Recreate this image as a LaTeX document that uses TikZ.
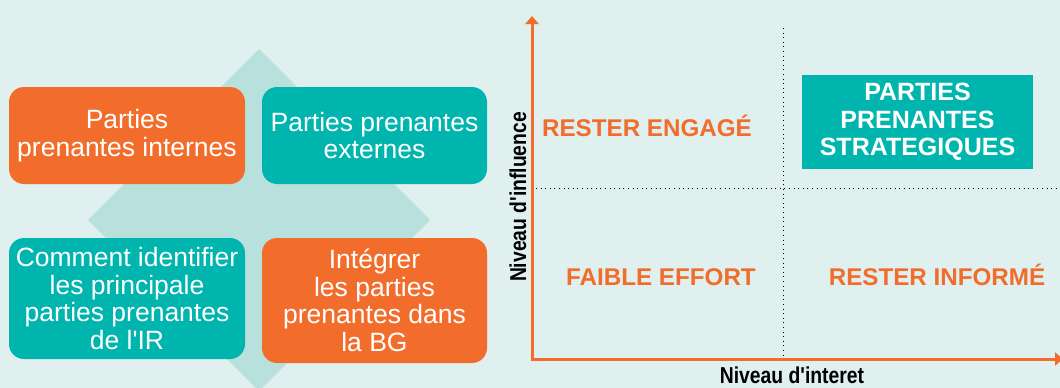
\documentclass[tikz,border=0pt]{standalone}
\usepackage{fontspec}
\setmainfont{Liberation Sans}[Ligatures=TeXOff]
\newfontfamily\axisfont{Liberation Sans}[Ligatures=TeXOff, FakeStretch=0.84]
\usetikzlibrary{arrows.meta}
\definecolor{bg}{HTML}{DFF0EE}
\definecolor{dia}{HTML}{B8E1DD}
\definecolor{orng}{HTML}{F26D2C}
\definecolor{tealc}{HTML}{00B5AE}
\begin{document}
\begin{tikzpicture}[x=1pt,y=-1pt,
  card/.style={rounded corners=15pt, text=white, align=center, inner sep=0pt,
    font=\fontsize{26.5}{27.6}\selectfont, minimum width=236pt},
  quad/.style={text=orng, font=\bfseries\fontsize{24.2}{27}\selectfont, anchor=base},
  axislabel/.style={font=\axisfont\bfseries\fontsize{23}{26}\selectfont, text=black, inner sep=0pt},
  gridline/.style={black, line width=1pt, dash pattern=on 1pt off 3.6pt},
  axisline/.style={orng, line width=3pt, line join=miter,
    {Triangle[width=13pt,length=8pt]}-{Triangle[width=13pt,length=8pt]}}]
\useasboundingbox (0,0) rectangle (1060,388);
\fill[bg] (0,0) rectangle (1060,388);
\begin{scope}
\clip (0,0) rectangle (1060,388);
\fill[dia] (259,49) -- (430,220) -- (259,391) -- (88,220) -- cycle;
\end{scope}
% cards
\node[card, fill=orng, minimum height=97pt] (internes) at (127,135.5)
  {Parties\\prenantes internes};
\node[card, fill=tealc, minimum width=225pt, minimum height=97pt] (externes) at (374.5,135.5)
  {Parties prenantes\\externes};
\node[card, fill=tealc, minimum height=121pt] (identifier) at (127,298.5)
  {Comment identifier\\les principale\\parties prenantes\\de l'IR};
\node[card, fill=orng, minimum width=225pt, minimum height=125pt] (integrer) at (374.5,300.5)
  {Int\'egrer\\les parties\\prenantes dans\\la BG};
% matrix
\coordinate (O) at (532,359);
\coordinate (Ytip) at (532,16);
\coordinate (Xtip) at (1063,359);
\coordinate (vtop) at (783,28);
\coordinate (vbot) at (783,359);
\coordinate (hleft) at (536,188);
\coordinate (hright) at (1060,188);
\draw[gridline] (vtop) -- (vbot);
\draw[gridline] (hleft) -- (hright);
\draw[axisline] (Ytip) -- (O) -- (Xtip);
\node[fill=tealc, text=white, minimum width=231pt, minimum height=94pt, inner sep=0pt,
  align=center, font=\bfseries\fontsize{25}{27.5}\selectfont] (strat) at (917.5,122)
  {PARTIES\\PRENANTES\\STRATEGIQUES};
\node[quad] (engage) at (647,136) {RESTER ENGAG\'E};
\node[quad] (faible) at (661,285) {FAIBLE EFFORT};
\node[quad] (informe) at (937,285) {RESTER INFORM\'E};
\node[axislabel, rotate=90] (ylab) at (518,197) {Niveau d'influence};
\node[axislabel, anchor=base] (xlab) at (792,383) {Niveau d'interet};
\end{tikzpicture}
\end{document}
